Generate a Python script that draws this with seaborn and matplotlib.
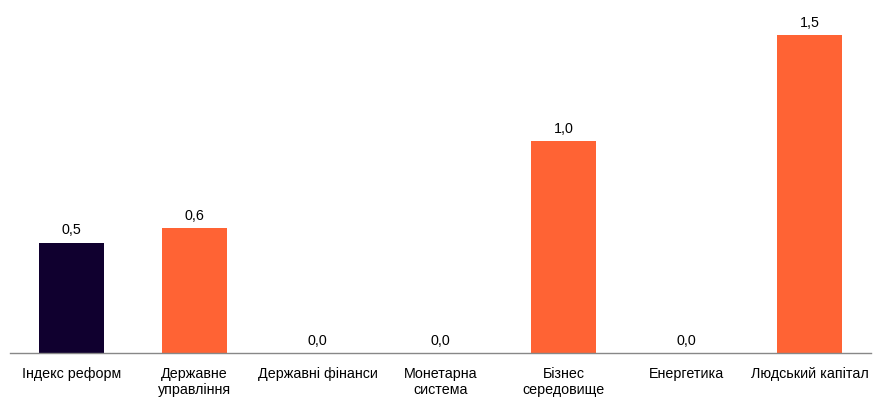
import matplotlib
matplotlib.use("Agg")
import matplotlib.pyplot as plt
import seaborn as sns
import pandas as pd

categories = ["Індекс реформ", "Державне\nуправління", "Державні фінанси", "Монетарна\nсистема",
              "Бізнес\nсередовище", "Енергетика", "Людський капітал"]
values = [0.52, 0.59, 0.0, 0.0, 1.0, 0.0, 1.5]
colors = ["#10002F", "#FF6334", "#FF6334", "#FF6334", "#FF6334", "#FF6334", "#FF6334"]

sns.set_theme(style="white")
plt.rcParams['font.family'] = ['Liberation Sans', 'DejaVu Sans']

df = pd.DataFrame({"cat": categories, "val": values})
fig = plt.figure(figsize=(8.73, 3.99), dpi=100)
ax = fig.add_axes([10/873, 46/399, 861/873, 353/399])
sns.barplot(data=df, x="cat", y="val", hue="cat", palette=colors, width=0.53,
            legend=False, ax=ax, saturation=1, linewidth=0)
ax.set_xlim(-0.5, 6.5)
ax.set_ylim(0, 1.5 * 353 / 318)
for i, v in enumerate(values):
    ax.text(i, v + 0.025, f"{v:.1f}".replace(".", ","), ha="center", va="bottom",
            fontsize=10.3, color="#000000")
for s in ["top", "right", "left"]:
    ax.spines[s].set_visible(False)
ax.spines["bottom"].set_color("#888888")
ax.spines["bottom"].set_linewidth(1)
ax.set_yticks([])
ax.set_xlabel("")
ax.set_ylabel("")
ax.tick_params(axis="x", length=0, pad=10, labelsize=10.3, colors="#000000")
fig.savefig("out.png", dpi=100, facecolor="white")
